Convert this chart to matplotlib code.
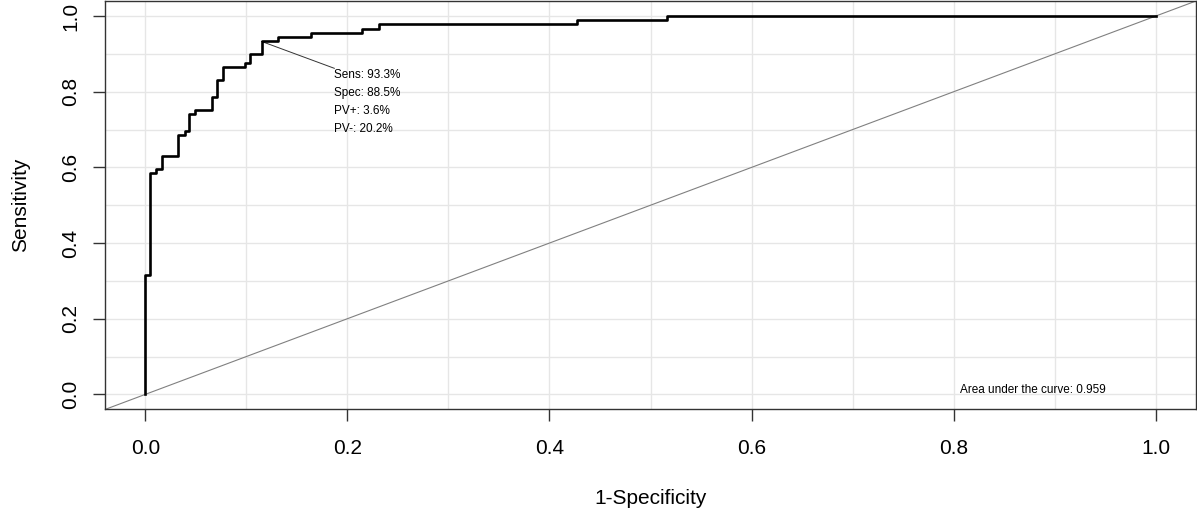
# ROC curve, R-style base plot
import matplotlib
matplotlib.use('Agg')
import matplotlib.pyplot as plt
import numpy as np

# staircase of the ROC curve (1-specificity, sensitivity)
fpr = [0.0, 0.0, 0.005, 0.005, 0.011, 0.011, 0.016, 0.016, 0.0325, 0.0325,
       0.039, 0.039, 0.043, 0.043, 0.049, 0.049, 0.0656, 0.0656, 0.071, 0.071,
       0.0767, 0.0767, 0.099, 0.099, 0.104, 0.104, 0.115, 0.115, 0.1315, 0.1315,
       0.164, 0.164, 0.214, 0.214, 0.231, 0.231, 0.4276, 0.4276, 0.516, 0.516, 1.0]
sens = [0.0, 0.315, 0.315, 0.584, 0.584, 0.596, 0.596, 0.629, 0.629, 0.685,
        0.685, 0.697, 0.697, 0.742, 0.742, 0.753, 0.753, 0.787, 0.787, 0.831,
        0.831, 0.865, 0.865, 0.876, 0.876, 0.899, 0.899, 0.933, 0.933, 0.944,
        0.944, 0.955, 0.955, 0.966, 0.966, 0.978, 0.978, 0.989, 0.989, 1.0, 1.0]

cut_point = (0.115, 0.933)
cut_labels = ['Sens: 93.3%', 'Spec: 88.5%', 'PV+: 3.6%', 'PV-: 20.2%']
auc_label = 'Area under the curve: 0.959'
ticks = [0.0, 0.2, 0.4, 0.6, 0.8, 1.0]

plt.rcParams['font.family'] = ['Liberation Sans', 'DejaVu Sans']

fig = plt.figure(figsize=(11.97, 5.13), dpi=100)
ax = fig.add_axes([0.0877, 0.2018, 0.9115, 0.7963])

# grid every 0.1
grid = np.round(np.arange(0, 1.01, 0.1), 2)
for g in grid:
    ax.axvline(g, color='#e6e6e6', lw=1.0, zorder=0)
    ax.axhline(g, color='#e6e6e6', lw=1.0, zorder=0)

# diagonal reference line
ax.plot([-0.1, 1.1], [-0.1, 1.1], color='#808080', lw=0.8, zorder=1)

# ROC curve
ax.plot(fpr, sens, color='black', lw=1.9, zorder=3)

# cut point annotation
ax.plot([cut_point[0], 0.187], [cut_point[1], 0.862], color='#333333', lw=0.7, zorder=2)
for i, lab in enumerate(cut_labels):
    ax.text(0.187, 0.844 - i * 0.0475, lab, fontsize=8.5, va='center', ha='left')

ax.text(0.806, 0.012, auc_label, fontsize=8.5, va='center', ha='left')

ax.set_xlim(-0.04, 1.04)
ax.set_ylim(-0.04, 1.04)
ax.set_xticks(ticks)
ax.set_yticks(ticks)
ax.set_xticklabels(['%.1f' % t for t in ticks], fontsize=15)
ax.set_yticklabels(['%.1f' % t for t in ticks], fontsize=15, rotation=90, va='center')
ax.tick_params(length=8.6, width=1, color='#333333')
ax.tick_params(axis='x', pad=13)
ax.tick_params(axis='y', pad=9)

for s in ax.spines.values():
    s.set_color('#333333')
    s.set_linewidth(1.0)

ax.set_xlabel('1-Specificity', fontsize=15, labelpad=22)
ax.set_ylabel('Sensitivity', fontsize=15, labelpad=23)

fig.savefig('out.png', dpi=100)
